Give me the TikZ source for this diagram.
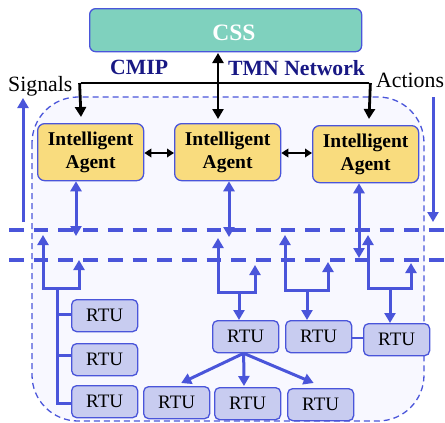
\documentclass[tikz,border=0pt]{standalone}
\usepackage{fontspec}
\setmainfont{Liberation Serif}
\usetikzlibrary{arrows.meta}
\definecolor{edge}{RGB}{74,85,218}
\definecolor{cssfill}{RGB}{127,209,190}
\definecolor{agentfill}{RGB}{249,220,126}
\definecolor{rtufill}{RGB}{200,204,240}
\definecolor{navy}{RGB}{24,24,132}
\definecolor{zonefill}{RGB}{248,248,255}

\begin{document}
\begin{tikzpicture}[x=1pt,y=-1pt,
  zone/.style={draw=edge, fill=zonefill, line width=1.3pt, dash pattern=on 6pt off 4pt, rounded corners=46pt},
  cssbox/.style={draw=edge, fill=cssfill, line width=1.3pt, rounded corners=6pt, anchor=north west,
    minimum width=272pt, minimum height=43pt, inner sep=0pt},
  agent/.style={draw=edge, fill=agentfill, line width=1.3pt, rounded corners=7pt, anchor=north west,
    minimum width=106pt, minimum height=57pt, inner sep=0pt, align=center,
    font=\fontsize{19.5}{22.5}\selectfont\bfseries},
  rtu/.style={draw=edge, fill=rtufill, line width=1.3pt, rounded corners=5pt, anchor=north west,
    minimum width=66pt, minimum height=32pt, inner sep=0pt,
    font=\fontsize{19}{20}\selectfont},
  bigtext/.style={inner sep=0pt, font=\fontsize{21.8}{24}\selectfont},
  netlabel/.style={inner sep=0pt, anchor=base west, text=navy, font=\fontsize{21.7}{24}\selectfont\bfseries},
  bline/.style={draw=edge, line width=3pt},
  barrow/.style={bline, -{Triangle[length=10pt,width=11pt]}},
  bdouble/.style={bline, {Triangle[length=10pt,width=11pt]}-{Triangle[length=10pt,width=11pt]}},
  kline/.style={draw=black, line width=2.8pt},
  karrow/.style={kline, -{Triangle[length=10pt,width=11pt]}},
  kdouble/.style={kline, {Triangle[length=10pt,width=11pt]}-{Triangle[length=10pt,width=11pt]}},
  ksmall/.style={draw=black, line width=2.2pt, {Triangle[length=7pt,width=8.5pt]}-{Triangle[length=7pt,width=8.5pt]}},
  busline/.style={draw=edge, line width=3.2pt, dash pattern=on 14.7pt off 10pt},
  thin/.style={draw=edge, line width=1.5pt}
]
\useasboundingbox (0,0) rectangle (445,423);

% managed domain
\draw[zone] (32,97) rectangle (424,421);

% central supervisory system and network labels
\node[cssbox] (css) at (89,8) {};
\node[inner sep=0pt, anchor=base, text=white, font=\fontsize{23.5}{25}\selectfont\bfseries] (csstext) at (234,40) {CSS};
\node[netlabel] (cmip) at (110,74) {CMIP};
\node[netlabel] (tmn) at (228,75) {TMN Network};
\node[bigtext, anchor=base west] (signals) at (8,91) {Signals};
\node[bigtext, anchor=base west] (actions) at (376,87.5) {Actions};

% intelligent agents
\node[agent] (a1) at (37,123) {Intelligent\\Agent};
\node[agent] (a2) at (174,123) {Intelligent\\Agent};
\node[agent] (a3) at (312,125) {Intelligent\\Agent};

% remote terminal units
\node[rtu] (r1) at (71,299) {RTU};
\node[rtu] (r2) at (71,343) {RTU};
\node[rtu] (r3) at (71,385) {RTU};
\node[rtu] (rm) at (212,320) {RTU};
\node[rtu] (rn) at (285,320) {RTU};
\node[rtu] (rk) at (363,323) {RTU};
\node[rtu] (b1) at (143,386) {RTU};
\node[rtu] (b2) at (214,387) {RTU};
\node[rtu] (b3) at (287,388) {RTU};

% TMN bus to the agents
\coordinate (cssdown) at (218,53);
\coordinate (a2top) at (218,119);
\coordinate (busl) at (81,83);
\coordinate (busr) at (369,83);
\coordinate (a1top) at (81,117);
\coordinate (a3top) at (369,119);
\draw[kdouble] (cssdown) -- (a2top);
\draw[kline] (busl) -- (busr);
\draw[karrow] ([xshift=-1.4pt]busl) -- (a1top);
\draw[karrow] ([xshift=1.4pt]busr) -- (a3top);

% agent to agent
\draw[ksmall] (a1.east |- 0,153) -- (a2.west |- 0,153);
\draw[ksmall] (a2.east |- 0,153) -- (a3.west |- 0,153);

% signals and actions
\coordinate (sigbot) at (23,222);
\coordinate (sigtop) at (23,98);
\coordinate (acttop) at (433,97);
\coordinate (actbot) at (433,222);
\draw[barrow] (sigbot) -- (sigtop);
\draw[barrow] (acttop) -- (actbot);

% field buses
\coordinate (d1l) at (9,230);
\coordinate (d1r) at (445,230);
\coordinate (d2l) at (9,260);
\coordinate (d2r) at (445,260);
\draw[busline] (d1l) -- (d1r);
\draw[busline] (d2l) -- (d2r);

% agents to buses
\draw[bdouble] (a1.south -| 76,0) -- (76,236);
\draw[bdouble] (a2.south -| 229,0) -- (229,237);
\draw[bdouble] (a3.south -| 359,0) -- (359,258);

% left group of RTUs
\draw[bdouble] (43,235) -- (43,288) -- (79,288) -- (79,260);
\coordinate (ltop) at (57,288);
\coordinate (lb1) at (57,314);
\coordinate (lb2) at (57,355);
\coordinate (lb3) at (57,403);
\draw[bline] (ltop) -- (lb3) -- (lb3 -| r3.west);
\draw[bline] (lb1) -- (lb1 -| r1.west);
\draw[bline] (lb2) -- (lb2 -| r2.west);

% middle group
\draw[bdouble] (218,238) -- (218,292) -- (255,292) -- (255,265);
\coordinate (mtop) at (239,292);
\draw[barrow] (mtop) -- (mtop |- rm.north);
\draw[barrow] ([xshift=-2pt]rm.south) -- ([xshift=4.5pt,yshift=3pt]b1.north);
\draw[barrow] ([xshift=-2pt]rm.south) -- ([yshift=1pt]b2.north -| 244,0);
\draw[barrow] ([xshift=-2pt]rm.south) -- ([xshift=-7pt,yshift=5pt]b3.north);

% third group
\draw[bdouble] (285,235) -- (285,290) -- (328,290) -- (328,262);
\coordinate (ntop) at (307,290);
\draw[barrow] (ntop) -- (ntop |- rn.north);

% right group
\draw[bdouble] (368,235) -- (368,288) -- (411,288) -- (411,263);
\coordinate (ktop) at (390,288);
\draw[barrow] (ktop) -- (ktop |- rk.north);

% link between neighbouring RTUs
\draw[thin] (rn.east |- 0,338) -- (rk.west |- 0,338);
\end{tikzpicture}
\end{document}
